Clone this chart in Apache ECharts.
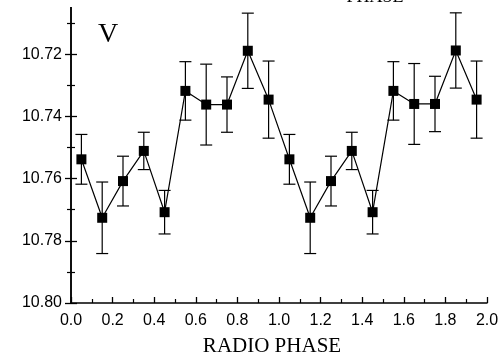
<!DOCTYPE html>
<html><head><meta charset="utf-8">
<script src="https://cdn.jsdelivr.net/npm/echarts@6/dist/echarts.min.js"></script>
<style>html,body{margin:0;padding:0;background:#fff}#c{width:498px;height:357px}</style>
</head><body><div id="c"></div>
<script>
const phases = [0.05,0.15,0.25,0.35,0.45,0.55,0.65,0.75,0.85,0.95,1.05,1.15,1.25,1.35,1.45,1.55,1.65,1.75,1.85,1.95];
const mags   = [10.7538,10.7726,10.7608,10.7511,10.7708,10.7318,10.7362,10.7362,10.7189,10.7346,
                10.7538,10.7726,10.7608,10.7511,10.7708,10.7318,10.7360,10.7360,10.7188,10.7346];
const errs   = [0.0080,0.0115,0.0080,0.0060,0.0070,0.0094,0.0130,0.0089,0.0121,0.0124,
                0.0080,0.0115,0.0080,0.0060,0.0070,0.0094,0.0130,0.0089,0.0121,0.0124];
const yTicks = [10.72,10.74,10.76,10.78,10.80];
const xTicks = [0.0,0.2,0.4,0.6,0.8,1.0,1.2,1.4,1.6,1.8,2.0];

const pts = phases.map((p,i)=>[p,mags[i]]);
const errData = phases.map((p,i)=>[p,mags[i]-errs[i],mags[i]+errs[i]]);

const chart = echarts.init(document.getElementById('c'));
const axisCommon = {
  axisLine:{show:true,lineStyle:{color:'#000',width:1.5}},
  axisTick:{show:true,inside:true,length:6,lineStyle:{color:'#000',width:1.3}},
  minorTick:{show:true,splitNumber:2,length:4,lineStyle:{color:'#000',width:1.2}},
  splitLine:{show:false}
};
const labelFont = {color:'#000',fontFamily:'Liberation Sans',fontSize:16};
chart.setOption({
  animation:false,
  backgroundColor:'#fff',
  grid:{left:71,right:11,top:-8,bottom:54,outerBoundsMode:'none',containLabel:false},
  xAxis:[
    Object.assign({type:'value',min:0,max:2,interval:0.2,position:'bottom',
      axisLabel:Object.assign({margin:10,formatter:v=>xTicks.some(t=>Math.abs(t-v)<1e-6)?v.toFixed(1):''},labelFont)},axisCommon),
    Object.assign({type:'value',min:0,max:2,interval:0.2,position:'top',axisLabel:{show:false}},axisCommon)
  ],
  yAxis:[
    Object.assign({type:'value',min:10.70,max:10.80,interval:0.02,inverse:true,position:'left',
      axisLabel:Object.assign({margin:9,formatter:v=>yTicks.some(t=>Math.abs(t-v)<1e-6)?v.toFixed(2):''},labelFont)},axisCommon),
    Object.assign({type:'value',min:10.70,max:10.80,interval:0.02,inverse:true,position:'right',axisLabel:{show:false}},axisCommon)
  ],
  series:[
    {type:'custom',xAxisIndex:0,yAxisIndex:0,data:errData,z:2,
     renderItem:function(params,api){
       const x=api.value(0);
       const lo=api.coord([x,api.value(1)]);
       const hi=api.coord([x,api.value(2)]);
       const hw=6;
       const st={stroke:'#000',lineWidth:1.2};
       return {type:'group',children:[
         {type:'line',shape:{x1:lo[0],y1:lo[1],x2:hi[0],y2:hi[1]},style:st},
         {type:'line',shape:{x1:lo[0]-hw,y1:lo[1],x2:lo[0]+hw,y2:lo[1]},style:st},
         {type:'line',shape:{x1:hi[0]-hw,y1:hi[1],x2:hi[0]+hw,y2:hi[1]},style:st}
       ]};
     }},
    {type:'line',data:pts,symbol:'rect',symbolSize:10,showSymbol:true,z:3,
     lineStyle:{color:'#000',width:1.2},itemStyle:{color:'#000'}}
  ],
  graphic:[
    {type:'rect',shape:{x:55,y:0,width:443,height:7},style:{fill:'#fff'},z:100},
    {type:'text',x:375,y:6,z:101,style:{text:'PHASE',font:'18px "Liberation Serif"',fill:'#000',textAlign:'center',textVerticalAlign:'bottom'}},
    {type:'text',x:98,y:21,z:101,style:{text:'V',font:'28px "Liberation Serif"',fill:'#000',textAlign:'left',textVerticalAlign:'top'}},
    {type:'text',x:272,y:336,z:101,style:{text:'RADIO PHASE',font:'21px "Liberation Serif"',fill:'#000',textAlign:'center',textVerticalAlign:'top'}}
  ]
});
</script></body></html>
